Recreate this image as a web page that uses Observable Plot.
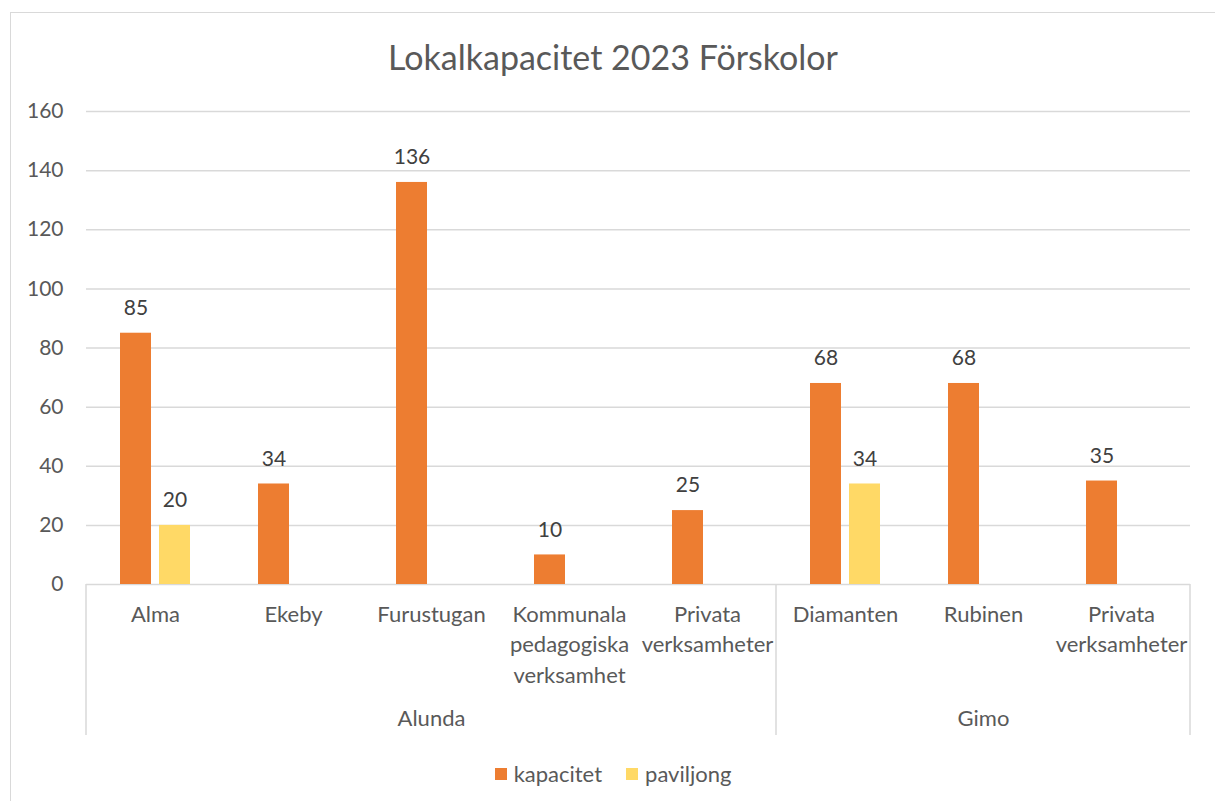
<!DOCTYPE html>
<html>
<head>
<meta charset="utf-8">
<script src="https://cdn.jsdelivr.net/npm/d3@7"></script>
<script src="https://cdn.jsdelivr.net/npm/@observablehq/plot@0.6"></script>
<style>
  html, body { margin: 0; padding: 0; background: #fff; overflow: hidden; }
  body { font-family: Lato, "Open Sans", sans-serif; }
  #wrap { margin: 12px 0 0 10px; border-top: 1px solid #d9d9d9; border-left: 1px solid #d9d9d9; width: 1205px; height: 800px; box-sizing: border-box; }
  #title { height: 82px; box-sizing: border-box; padding-top: 24px; line-height: 40px; font-size: 34px; color: #595959; text-align: center; }
  #legend { padding-top: 13px; line-height: 28px; font-size: 22px; color: #595959; text-align: center; }
  #legend .item { display: inline-flex; align-items: center; margin: 0 12px; }
  #legend .sw { width: 12px; height: 12px; display: inline-block; margin-right: 7px; }
  svg { display: block; }
</style>
</head>
<body>
<div id="wrap">
  <div id="title">Lokalkapacitet 2023 Förskolor</div>
  <div id="chart"></div>
  <div id="legend"></div>
</div>
<script>
const groups = ["Alunda", "Alunda", "Alunda", "Alunda", "Alunda", "Gimo", "Gimo", "Gimo"];
const categories = ["Alma", "Ekeby", "Furustugan", "Kommunala pedagogiska verksamhet", "Privata verksamheter", "Diamanten", "Rubinen", "Privata verksamheter"];
const tickLabels = ["Alma", "Ekeby", "Furustugan", "Kommunala\npedagogiska\nverksamhet", "Privata\nverksamheter", "Diamanten", "Rubinen", "Privata\nverksamheter"];
const kapacitet = [85, 34, 136, 10, 25, 68, 68, 35];
const paviljong = [20, null, null, null, null, 34, null, null];
const series = ["kapacitet", "paviljong"];
const colors = ["#ED7D31", "#FFD966"];
const yTicks = [0, 20, 40, 60, 80, 100, 120, 140, 160];

const rows = [];
categories.forEach((c, i) => {
  rows.push({i, group: groups[i], category: c, series: "kapacitet", value: kapacitet[i]});
  if (paviljong[i] != null) rows.push({i, group: groups[i], category: c, series: "paviljong", value: paviljong[i]});
});

// group spans
const groupNames = [...new Set(groups)];
const spans = groupNames.map(g => {
  const idx = groups.map((v, i) => v === g ? i : -1).filter(i => i >= 0);
  return {group: g, first: idx[0], last: idx[idx.length - 1], mid: Math.round((idx[0] + idx[idx.length - 1]) / 2)};
});
const midLabel = new Map(spans.map(s => [s.mid, s.group]));

const labelColor = "#595959";
const plot = Plot.plot({
  width: 1204,
  height: 650,
  marginLeft: 75,
  marginRight: 25,
  marginTop: 16,
  marginBottom: 161,
  style: {fontFamily: "Lato, 'Open Sans', sans-serif", background: "transparent"},
  fx: {domain: d3.range(categories.length), padding: 0, axis: null},
  x: {domain: series, paddingInner: 8 / 39, paddingOuter: 34 / 39, axis: null},
  y: {domain: [0, 160], axis: null},
  color: {domain: series, range: colors},
  marks: [
    Plot.gridY(yTicks, {stroke: "#d9d9d9", strokeOpacity: 1, strokeWidth: 1.5}),
    Plot.barY(rows, {fx: "i", x: "series", y: "value", fill: "series"}),
    Plot.text(rows, {fx: "i", x: "series", y: "value", text: d => String(d.value), dy: -25, fill: "#404040", fontSize: 21}),
    Plot.axisY(yTicks, {tickSize: 0, tickPadding: 23, fill: labelColor, fontSize: 21, label: null}),
    Plot.axisFx({anchor: "bottom", tickSize: 0, tickPadding: 16, tickFormat: i => tickLabels[i], fill: labelColor, fontSize: 22, lineHeight: 1.38, label: null}),
    Plot.axisFx({anchor: "bottom", tickSize: 0, tickPadding: 126, tickFormat: i => midLabel.get(i) || "", fill: labelColor, fontSize: 22, label: null})
  ]
});

// group separators along the category axis
const fx = plot.scale("fx");
const y = plot.scale("y");
const y0 = y.apply(0);
const bounds = [];
spans.forEach(s => { bounds.push(fx.apply(s.first)); });
bounds.push(fx.apply(spans[spans.length - 1].last) + fx.bandwidth);
d3.select(plot).append("g")
  .selectAll("line").data(bounds).join("line")
  .attr("x1", d => d).attr("x2", d => d)
  .attr("y1", y0).attr("y2", y0 + 151)
  .attr("stroke", "#d9d9d9").attr("stroke-width", 1.5);

document.getElementById("chart").appendChild(plot);

const legend = d3.select("#legend");
series.forEach((s, k) => {
  const item = legend.append("span").attr("class", "item");
  item.append("span").attr("class", "sw").style("background", colors[k]);
  item.append("span").text(s);
});
</script>
</body>
</html>
